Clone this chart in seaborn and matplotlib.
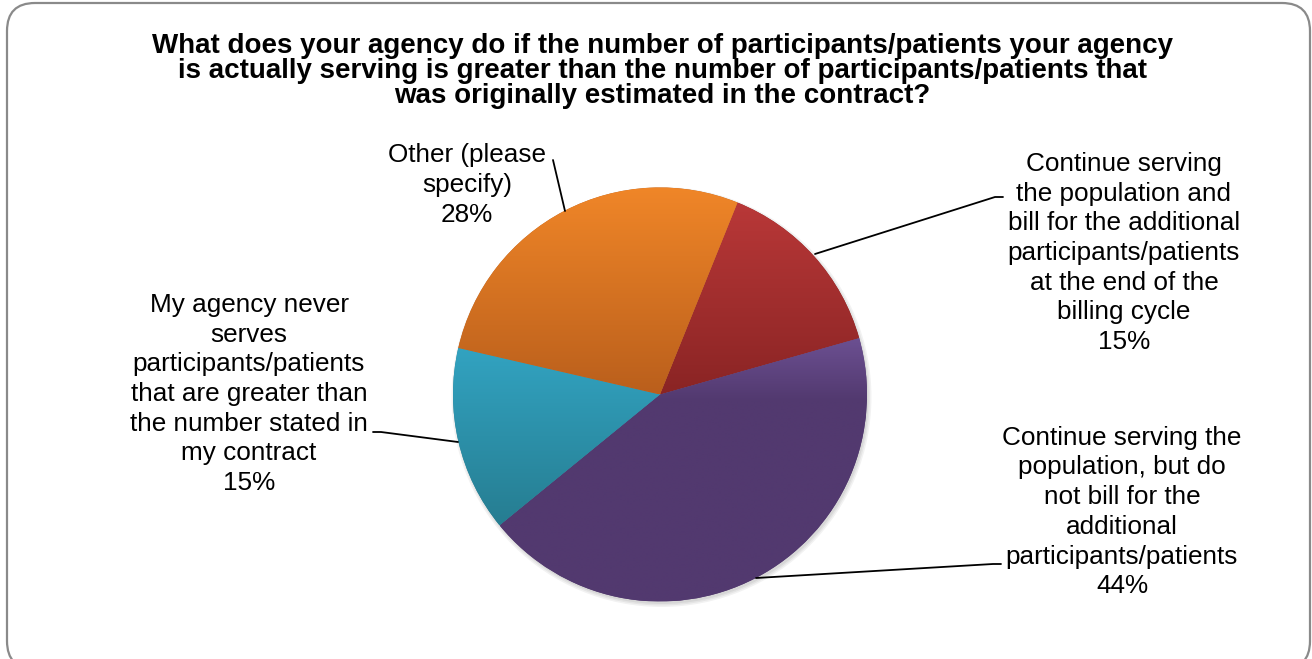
import numpy as np
import seaborn as sns
import matplotlib.pyplot as plt
from matplotlib.colors import LinearSegmentedColormap
from matplotlib.patches import FancyBboxPatch, Circle

# data (clockwise from the top-right slice)
categories = [
    'Continue serving\nthe population and\nbill for the additional\nparticipants/patients\nat the end of the\nbilling cycle',
    'Continue serving the\npopulation, but do\nnot bill for the\nadditional\nparticipants/patients',
    'My agency never\nserves\nparticipants/patients\nthat are greater than\nthe number stated in\nmy contract',
    'Other (please\nspecify)',
]
shares = [14.5, 43.5, 14.5, 27.5]
top_colors = ['#B93838', '#6C5092', '#32A3C1', '#F08628']
bottom_colors = ['#8A2424', '#52396F', '#267D91', '#BA5F1C']
fade_end = [1.0, 0.24, 1.0, 1.0]   # share of slice height over which the shading runs

title = ('What does your agency do if the number of participants/patients your agency\n'
         'is actually serving is greater than the number of participants/patients that\n'
         'was originally estimated in the contract?')

sns.set_theme(style='white')
plt.rcParams['font.family'] = ['Liberation Sans', 'DejaVu Sans']

W, H = 1312, 659
fig = plt.figure(figsize=(W / 100, H / 100), dpi=100)
ax = fig.add_axes([0, 0, 1, 1])

cx, cy, r = 660, 394.5, 207

# soft shadow under the pie
for k, a in enumerate([0.05, 0.05, 0.06]):
    ax.add_patch(Circle((cx + 1.5, cy + 2.5), r + 3 - k * 1.5, color='black', alpha=a, lw=0, zorder=1))

wedges, _ = ax.pie(shares, colors=top_colors, startangle=-68, counterclock=True,
                   center=(cx, cy), radius=r, wedgeprops=dict(linewidth=0))

# vertical shading inside each slice
grad = np.linspace(0, 1, 256).reshape(-1, 1)
for w, c0, c1, f in zip(wedges, top_colors, bottom_colors, fade_end):
    w.set_zorder(2)
    w.set_facecolor(c1)
    ext = w.get_path().get_extents()
    cmap = LinearSegmentedColormap.from_list('g', [(0, c0), (f, c1), (1, c1)])
    im = ax.imshow(grad, cmap=cmap, aspect='auto', origin='upper',
                   extent=(ext.x0, ext.x1, ext.y1, ext.y0), zorder=3, interpolation='bilinear')
    im.set_clip_path(w)

ax.set_xlim(0, W)
ax.set_ylim(H, 0)
ax.set_aspect('auto')
ax.axis('off')

# rounded frame, in figure pixels (runs past the bottom edge)
frame = FancyBboxPatch((7, -10), 1303, 666, boxstyle='round,pad=0,rounding_size=28',
                       fc='none', ec='#8A8A8A', lw=1.6, transform=None)
fig.add_artist(frame)

ax.text(662, 71, title, ha='center', va='center', fontsize=20, fontweight='bold',
        linespacing=0.97, color='black')

pct = [f'{int(s / sum(shares) * 100 + 0.5 + 1e-9)}%' for s in shares]
label_pos = [(1124, 253), (1122, 512), (249, 394), (467, 185)]
leaders = [
    [(815, 254), (995, 197), (1003, 197)],
    [(756, 578), (993, 564), (1001, 564)],
    [(458, 442), (381, 432), (373, 432)],
    [(565, 211), (553, 160)],
]
for cat, p, (tx, ty), pts in zip(categories, pct, label_pos, leaders):
    ax.text(tx, ty, f'{cat}\n{p}', ha='center', va='center', multialignment='center',
            fontsize=18.8, linespacing=1.3, color='black')
    xs, ys = zip(*pts)
    ax.plot(xs, ys, color='black', lw=1.3, zorder=4)

fig.savefig('out.png', dpi=100)
